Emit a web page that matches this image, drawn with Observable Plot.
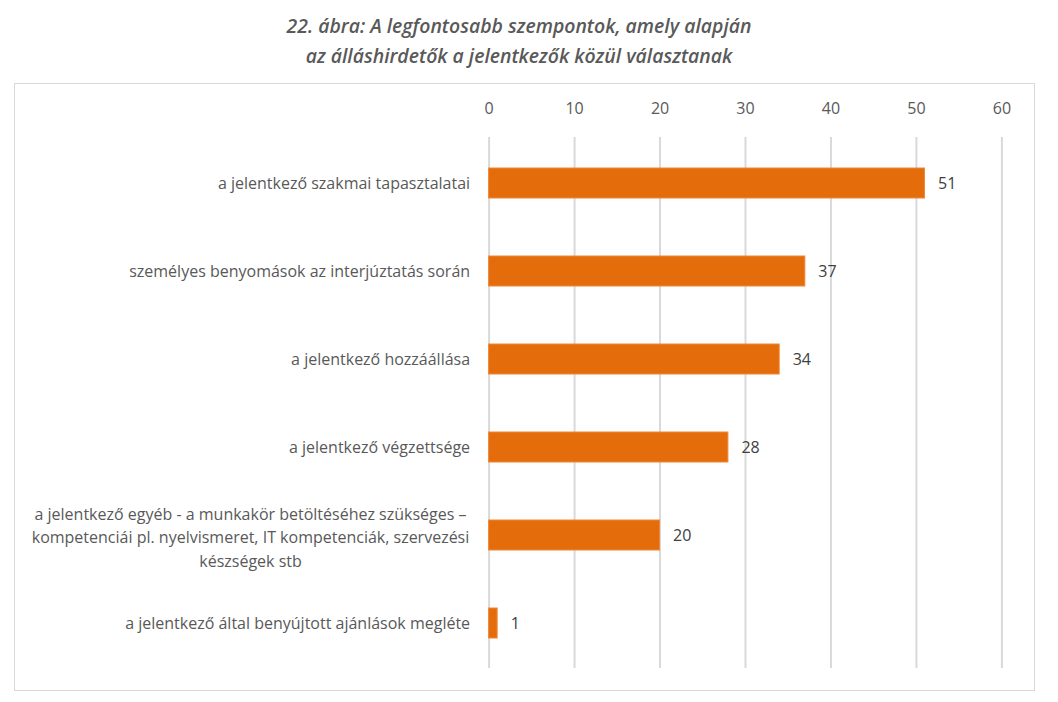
<!DOCTYPE html>
<html>
<head>
<meta charset="utf-8">
<script src="https://cdn.jsdelivr.net/npm/d3@7"></script>
<script src="https://cdn.jsdelivr.net/npm/@observablehq/plot@0.6"></script>
<style>
  html, body { margin: 0; padding: 0; background: #fff; }
  #wrap { position: relative; width: 1058px; height: 702px; }
  #title { position: absolute; left: 0; top: 11px; width: 1038px; text-align: center;
    font-family: "Open Sans", sans-serif; font-style: italic; font-weight: 600; font-size: 19.4px;
    line-height: 30px; color: #595959; }
  #frame { position: absolute; left: 14px; top: 83px; width: 1021px; height: 608px;
    border: 1px solid #d9d9d9; box-sizing: border-box; }
  #chart { position: absolute; left: 0; top: 0; }
</style>
</head>
<body>
<div id="wrap">
  <div id="frame"></div>
  <div id="title">22. ábra: A legfontosabb szempontok, amely alapján<br>az álláshirdetők a jelentkezők közül választanak</div>
  <div id="chart"></div>
</div>
<script>
const categories = [
  "a jelentkező szakmai tapasztalatai",
  "személyes benyomások az interjúztatás során",
  "a jelentkező hozzáállása",
  "a jelentkező végzettsége",
  "a jelentkező egyéb - a munkakör betöltéséhez szükséges –\nkompetenciái pl. nyelvismeret, IT kompetenciák, szervezési\nkészségek stb",
  "a jelentkező által benyújtott ajánlások megléte"
];
const values = [51, 37, 34, 28, 20, 1];
const xTicks = [0, 10, 20, 30, 40, 50, 60];

const data = categories.map((c, i) => ({category: c, value: values[i]}));
const single = categories.filter(c => !c.includes("\n"));
const multi = categories.filter(c => c.includes("\n"));

const chart = Plot.plot({
  width: 1058,
  height: 702,
  marginTop: 137,
  marginBottom: 34,
  marginLeft: 488.6,
  marginRight: 56.6,
  style: {fontFamily: "'Open Sans', sans-serif", background: "transparent"},
  x: {domain: [0, 60], ticks: xTicks, axis: null},
  y: {domain: categories, paddingInner: 0.66, paddingOuter: 0.33, axis: null},
  marks: [
    Plot.gridX(xTicks, {stroke: "#d9d9d9", strokeOpacity: 1, strokeWidth: 2}),
    Plot.axisX(xTicks, {anchor: "top", tickSize: 0, tickPadding: 24, fontSize: 16, fill: "#595959", label: null}),
    Plot.barX(data, {x: "value", y: "category", fill: "#e46c0a", stroke: "#f0883a", strokeWidth: 1}),
    Plot.text(data, {x: "value", y: "category", text: d => String(d.value), textAnchor: "start", dx: 13, fontSize: 16, fill: "#404040"}),
    Plot.text(single, {x: 0, y: d => d, text: d => d, textAnchor: "end", dx: -19, fontSize: 16, fill: "#595959"}),
    Plot.text(multi, {x: 0, y: d => d, text: d => d, textAnchor: "middle", dx: -238.6, fontSize: 16, lineHeight: 1.47, fill: "#595959"})
  ]
});
document.getElementById("chart").appendChild(chart);
</script>
</body>
</html>
